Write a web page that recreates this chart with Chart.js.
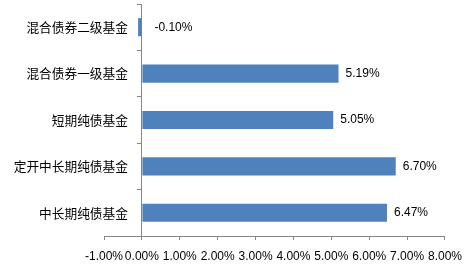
<!DOCTYPE html>
<html>
<head>
<meta charset="utf-8">
<script src="https://cdn.jsdelivr.net/npm/chart.js@4"></script>
<style>
  html, body { margin: 0; padding: 0; background: #fff; }
  #wrap { width: 471px; height: 272px; }
</style>
</head>
<body>
<div id="wrap"><canvas id="grafico"></canvas></div>
<script>
// categorias e valores (%)
const categorias = ['混合债券二级基金', '混合债券一级基金', '短期纯债基金', '定开中长期纯债基金', '中长期纯债基金'];
const retornos = [-0.10, 5.19, 5.05, 6.70, 6.47];
const eixoMin = -1;
const eixoMax = 8;
const eixoPasso = 1;

const cinza = '#868686';

// rótulos: valores ao lado das barras e nomes das categorias à esquerda do eixo zero
const rotulos = {
  id: 'rotulos',
  afterDatasetsDraw(chart) {
    const ctx = chart.ctx;
    const meta = chart.getDatasetMeta(0);
    const escalaX = chart.scales.x;
    const escalaY = chart.scales.y;
    ctx.save();
    ctx.fillStyle = '#000';
    ctx.textBaseline = 'middle';

    ctx.font = '12px "Liberation Sans", Arial, sans-serif';
    ctx.textAlign = 'left';
    meta.data.forEach((bar, i) => {
      const v = retornos[i];
      const x = Math.max(bar.x, bar.base) + (v < 0 ? 13 : 7);
      ctx.fillText(v.toFixed(2) + '%', x, bar.y);
    });

    ctx.font = '12.7px "Noto Sans CJK SC", sans-serif';
    ctx.textAlign = 'right';
    const x0 = escalaX.getPixelForValue(0) - 14;
    categorias.forEach((c, i) => {
      ctx.fillText(c, x0, escalaY.getPixelForTick(i));
    });
    ctx.restore();
  }
};

new Chart(document.getElementById('grafico').getContext('2d'), {
  type: 'bar',
  data: {
    labels: categorias,
    datasets: [{
      data: retornos,
      backgroundColor: '#4F81BD',
      borderWidth: 0,
      categoryPercentage: 1,
      barPercentage: 0.39
    }]
  },
  options: {
    indexAxis: 'y',
    responsive: true,
    maintainAspectRatio: false,
    animation: false,
    layout: { padding: { left: 104, right: 24, top: 4, bottom: 0 } },
    plugins: {
      legend: { display: false },
      tooltip: { enabled: false }
    },
    scales: {
      x: {
        min: eixoMin,
        max: eixoMax,
        afterFit: escala => { escala.height = 36; },
        grid: { drawOnChartArea: false, color: cinza, tickLength: 4 },
        border: { color: cinza },
        ticks: {
          stepSize: eixoPasso,
          padding: 9,
          maxRotation: 0,
          minRotation: 0,
          autoSkip: false,
          color: '#000',
          font: { family: '"Liberation Sans", Arial, sans-serif', size: 12 },
          callback: v => v.toFixed(2) + '%'
        }
      },
      y: {
        position: { x: 0 },
        grid: { drawOnChartArea: false, color: cinza, tickLength: 4, offset: true },
        border: { color: cinza },
        ticks: { display: false }
      }
    }
  },
  plugins: [rotulos]
});
</script>
</body>
</html>
